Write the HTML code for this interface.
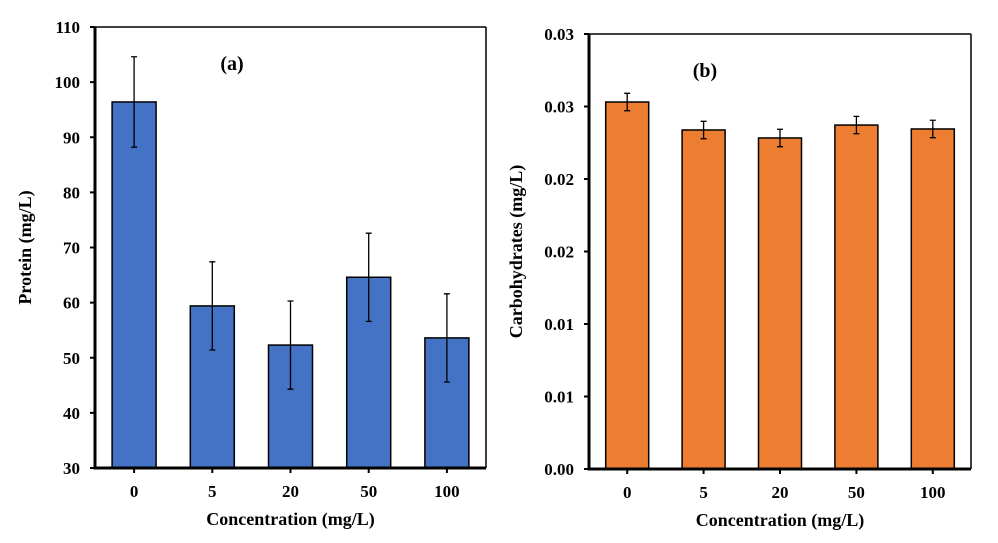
<!DOCTYPE html>
<html><head><meta charset="utf-8"><style>
body{margin:0;background:#fff;width:998px;height:538px;overflow:hidden}
svg text{font-family:"Liberation Serif",serif;font-weight:bold;fill:#000}
</style></head><body>
<svg id="c" width="998" height="538"></svg>
<script>
const categories=["0","5","20","50","100"];
const proteinValues=[96.4,59.4,52.3,64.6,53.6];
const proteinErrors=[8.2,8.0,8.0,8.0,8.0];
const proteinTicks=[30,40,50,60,70,80,90,100,110];
const carbValues=[0.02531,0.02338,0.02283,0.02372,0.02345];
const carbErrors=[0.0006,0.0006,0.0006,0.0006,0.0006];
const carbTicks=[0,0.005,0.01,0.015,0.02,0.025,0.03];
const NS="http://www.w3.org/2000/svg";
const svg=document.getElementById('c');
function mk(t,a,p){const e=document.createElementNS(NS,t);for(const k in a)e.setAttribute(k,a[k]);(p||svg).appendChild(e);return e;}
function chart(o){
  const g=mk('g',{});
  
  
  const y=v=>o.y1-(v-o.vmin)/(o.vmax-o.vmin)*(o.y1-o.y0);
  const step=(o.x1-o.x0)/categories.length;
  const cx=i=>o.x0+step*(i+0.5);
  mk('line',{x1:o.x0,y1:o.y0,x2:o.x1,y2:o.y0,stroke:'#000','stroke-width':1.5},g);
  mk('line',{x1:o.x1,y1:o.y0,x2:o.x1,y2:o.y1,stroke:'#000','stroke-width':1.5},g);
  o.values.forEach((v,i)=>{
    const r=mk('rect',{x:cx(i)-o.bw/2,y:y(v),width:o.bw,height:o.y1-y(v),fill:o.color,stroke:'#000','stroke-width':1.5},g);
    
    
    const e=mk('path',{d:`M${cx(i)} ${y(v+o.errs[i])}V${y(v-o.errs[i])}M${cx(i)-3} ${y(v+o.errs[i])}h6M${cx(i)-3} ${y(v-o.errs[i])}h6`,stroke:'#000','stroke-width':1.3,fill:'none'},g);
    
    
    mk('line',{x1:cx(i),y1:o.y1,x2:cx(i),y2:o.y1+5,stroke:'#000','stroke-width':2},g);
    const t=mk('text',{x:cx(i),y:o.y1+29,'text-anchor':'middle','font-size':17},g);t.textContent=categories[i];
    
    
  });
  o.ticks.forEach(v=>{
    mk('line',{x1:o.x0-5,y1:y(v),x2:o.x0,y2:y(v),stroke:'#000','stroke-width':2},g);
    const t=mk('text',{x:o.x0-15,y:y(v)+6,'text-anchor':'end','font-size':17},g);t.textContent=o.fmt(v);
    
    
  });
  mk('line',{x1:o.x0,y1:o.y0,x2:o.x0,y2:o.y1+1.5,stroke:'#000','stroke-width':3},g);
  mk('line',{x1:o.x0-1.5,y1:o.y1,x2:o.x1,y2:o.y1,stroke:'#000','stroke-width':3},g);
  let t=mk('text',{x:(o.x0+o.x1)/2,y:o.y1+57,'text-anchor':'middle','font-size':18},g);t.textContent='Concentration  (mg/L)';
  
  
  t=mk('text',{x:0,y:0,'text-anchor':'middle','font-size':18,transform:`translate(${o.ytx},${(o.y0+o.y1)/2}) rotate(-90)`},g);t.textContent=o.ytitle;
  
  
  t=mk('text',{x:o.lx,y:o.y0+43,'text-anchor':'middle','font-size':20},g);t.textContent=o.label;
  
  
}
chart({name:'protein-chart',x0:95,x1:486,y0:27,y1:468,vmin:30,vmax:110,bw:44,color:'#4472c4',values:proteinValues,errs:proteinErrors,ticks:proteinTicks,fmt:v=>String(v),ytitle:'Protein (mg/L)',ytx:31,label:'(a)',lx:232});
chart({name:'carbohydrates-chart',x0:589,x1:971,y0:34,y1:469,vmin:0,vmax:0.03,bw:43,color:'#ed7d31',values:carbValues,errs:carbErrors,ticks:carbTicks,fmt:v=>(Math.round(v*100+1e-9)/100).toFixed(2),ytitle:'Carbohydrates  (mg/L)',ytx:522,label:'(b)',lx:705});
</script>
</body></html>
